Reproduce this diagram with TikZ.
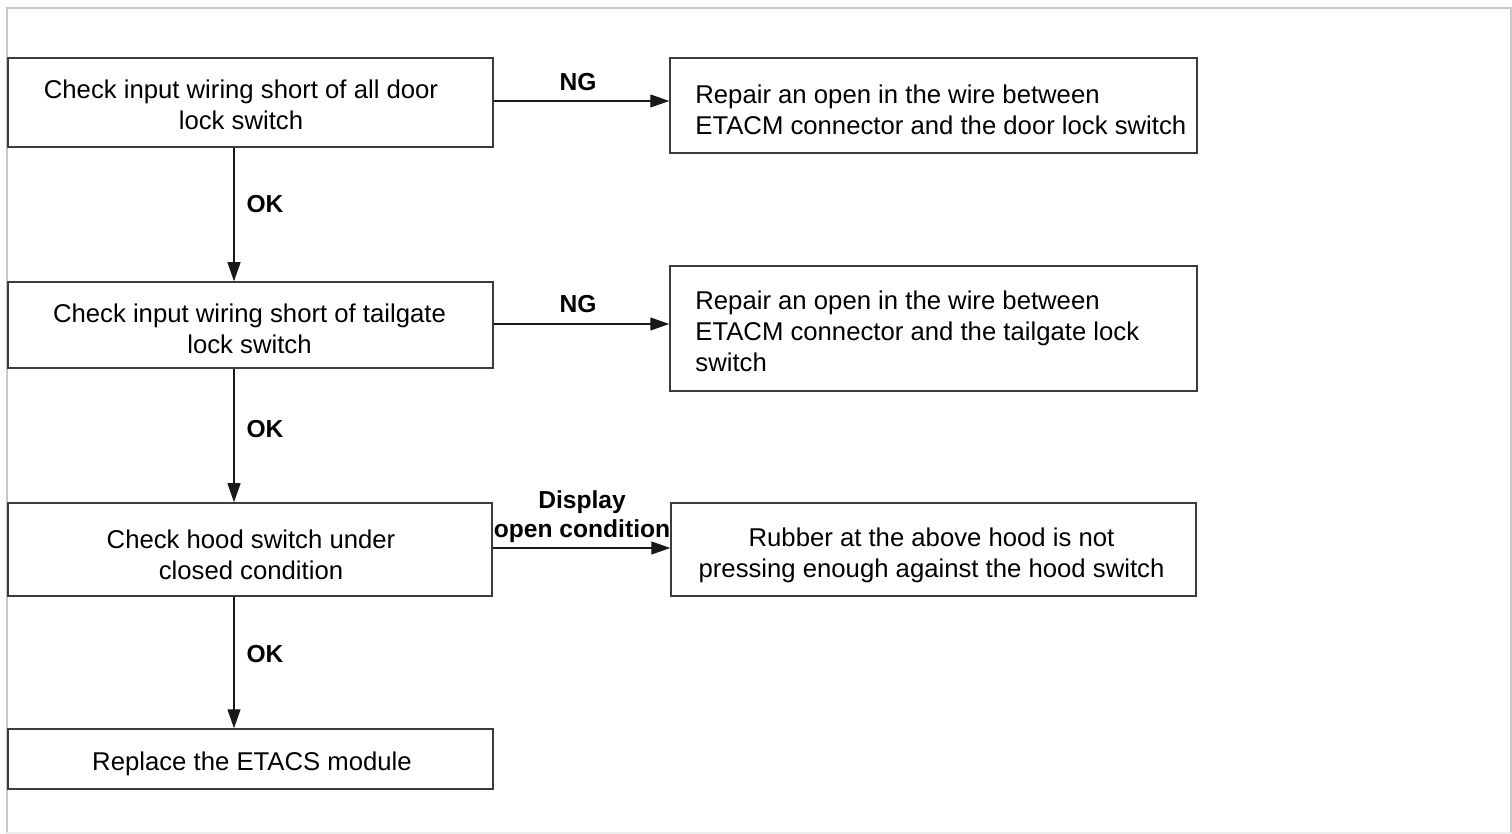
\documentclass[tikz,border=0pt]{standalone}
\usepackage{fontspec}
\setmainfont{Liberation Sans}
\usetikzlibrary{arrows.meta}
\definecolor{framegray}{RGB}{200,200,200}
\definecolor{framefaint}{RGB}{238,238,238}
\definecolor{boxline}{RGB}{60,60,60}
\begin{document}
\begin{tikzpicture}[x=0.5pt,y=-0.5pt,
  box/.style={draw=boxline, line width=0.75pt, inner sep=0pt},
  ctxt/.style={align=center, inner sep=0pt,
    font=\fontsize{12.85pt}{15.5pt}\selectfont},
  txt/.style={align=left, inner sep=0pt, anchor=west,
    font=\fontsize{12.85pt}{15.5pt}\selectfont},
  lbl/.style={font=\bfseries\fontsize{12.3pt}{14.5pt}\selectfont, inner sep=0pt, align=center},
  arr/.style={-{Triangle[length=9.5pt,width=6.5pt]}, line width=0.6pt, draw=black!90}]
\useasboundingbox (0,0) rectangle (1512,834);
% outer frame
\draw[framegray, line width=1pt] (6.5,833) -- (6.5,8.5) -- (1511,8.5) -- (1511,833);
\draw[framefaint, line width=0.8pt] (6.5,833) -- (1511,833);
% left column
\node[box, minimum width=242.5pt, minimum height=44.5pt] (b1) at (250.5,102.5) {};
\node[ctxt] (tb1) at (241,104.5) {Check input wiring short of all door\\lock switch};
\node[box, minimum width=242.5pt, minimum height=43pt] (b2) at (250.5,325) {};
\node[ctxt] (tb2) at (249.5,329) {Check input wiring short of tailgate\\lock switch};
\node[box, minimum width=242pt, minimum height=46.5pt] (b3) at (250,549.5) {};
\node[ctxt] (tb3) at (251,554.5) {Check hood switch under\\closed condition};
\node[box, minimum width=242.5pt, minimum height=30pt] (b4) at (250.5,759) {};
\node[ctxt] (tb4) at (252,764) {Replace the ETACS module};
% right column
\node[box, minimum width=263.5pt, minimum height=47.5pt] (r1) at (933.5,105.5) {};
\node[txt] (t1) at (695,110)
  {Repair an open in the wire between\\ETACM connector and the door lock switch};
\node[box, minimum width=263.5pt, minimum height=62.5pt] (r2) at (933.5,328.5) {};
\node[txt] (t2) at (695,331.5)
  {Repair an open in the wire between\\ETACM connector and the tailgate lock\\switch};
\node[box, minimum width=262.5pt, minimum height=46.5pt] (r3) at (933.5,549.5) {};
\node[ctxt] (t3) at (931.5,555.5)
  {Rubber at the above hood is not\\pressing enough against the hood switch};
% arrows
\coordinate (ax) at (234,0);
\draw[arr] (b1.south -| ax) -- (b2.north -| ax);
\draw[arr] (b2.south -| ax) -- (b3.north -| ax);
\draw[arr] (b3.south -| ax) -- (b4.north -| ax);
\draw[arr] ([yshift=0.75pt]b1.east) -- ([yshift=0.75pt]b1.east -| r1.west);
\draw[arr] ([yshift=0.5pt]b2.east) -- ([yshift=0.5pt]b2.east -| r2.west);
\draw[arr] ([yshift=0.75pt]b3.east) -- ([yshift=0.75pt]b3.east -| r3.west);
% labels
\node[lbl] (ng1) at (578,82) {NG};
\node[lbl] (ng2) at (578,304) {NG};
\node[lbl] (ok1) at (265,204) {OK};
\node[lbl] (ok2) at (265,429) {OK};
\node[lbl] (ok3) at (265,654) {OK};
\node[lbl] (disp) at (582,516.5) {Display\\open condition};
\end{tikzpicture}
\end{document}
